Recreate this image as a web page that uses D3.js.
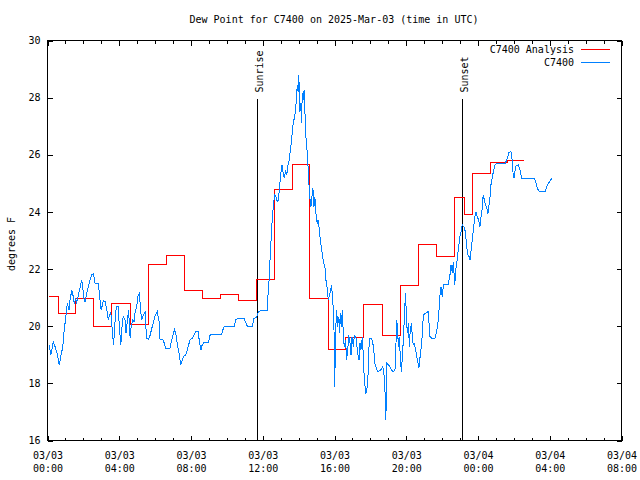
<!DOCTYPE html>
<html><head><meta charset="utf-8">
<script src="https://cdn.jsdelivr.net/npm/d3@7"></script>
<style>
body{margin:0;background:#fff}
svg{display:block;background:#fff}
text{font-family:"DejaVu Sans Mono","Liberation Mono",monospace;font-size:10px;fill:#000}
</style>
</head><body><svg id="c" width="640" height="480"></svg>
<script>
const title = "Dew Point for C7400 on 2025-Mar-03 (time in UTC)";
const yLabel = "degrees F";
const seriesNames = ["C7400 Analysis", "C7400"];
const seriesColors = ["#ff0000", "#0080ff"];
const yTickValues = [16, 18, 20, 22, 24, 26, 28, 30];
const sunLabels = ["Sunrise", "Sunset"];
const sunMinutes = [704, 1389];

// minutes after 2025-03-03 00:00 UTC, analysis (hourly, stepwise)
const analysisMinutes = [7,38,96,155,216,278,338,401,459,519,579,639,701,761,820,878,940,1000,1060,1121,1181,1243,1303,1363,1395,1422,1484,1542,1597];
const analysisValues = [21.04,20.43,20.96,19.97,20.78,20.06,22.13,22.46,21.23,20.96,21.1,20.89,21.62,24.78,25.65,20.96,19.17,19.59,20.75,19.67,21.41,22.86,22.44,24.49,23.91,25.33,25.72,25.79,25.79];

// observations
const obsMinutes = [7,13,21,27,34,41,46,53,57,63,68,74,77,83,86,91,96,99,105,110,116,119,124,127,133,138,144,150,155,161,172,175,181,184,188,195,200,205,208,213,216,220,223,226,232,238,242,247,251,255,261,264,269,273,278,282,287,291,295,300,304,309,313,317,322,328,333,339,345,352,361,369,376,378,389,397,411,420,426,432,437,443,447,451,456,464,471,478,486,492,498,506,509,515,519,525,540,545,556,584,590,595,627,632,659,666,670,687,692,701,707,718,737,740,744,746,750,754,758,761,765,770,774,777,782,786,790,794,798,802,805,810,815,819,822,826,830,833,835,837,840,842,844,846,849,851,853,855,857,860,862,864,866,869,872,875,877,880,883,885,889,891,893,896,900,904,907,911,914,919,924,930,933,938,941,944,949,952,954,958,960,962,964,967,969,972,976,978,981,984,988,991,994,999,1002,1006,1009,1014,1017,1020,1025,1028,1033,1036,1039,1044,1047,1050,1055,1058,1061,1066,1070,1075,1078,1086,1092,1097,1103,1108,1116,1123,1127,1131,1133,1135,1137,1142,1147,1153,1158,1164,1167,1170,1173,1175,1178,1182,1185,1188,1192,1195,1199,1202,1205,1209,1212,1215,1219,1222,1225,1229,1233,1239,1244,1248,1253,1259,1264,1275,1281,1287,1298,1304,1309,1315,1318,1322,1326,1329,1342,1348,1351,1356,1359,1364,1367,1372,1377,1381,1385,1389,1394,1398,1401,1404,1407,1412,1415,1418,1421,1425,1428,1432,1435,1439,1444,1448,1452,1456,1459,1463,1467,1471,1475,1478,1482,1485,1490,1494,1499,1504,1532,1538,1545,1552,1556,1559,1562,1565,1569,1577,1582,1588,1630,1636,1640,1647,1666,1672,1679,1686,1690];
const obsValues = [19.33,18.97,19.44,19.27,19.03,18.63,18.92,19.27,19.79,20.32,20.78,20.55,20.9,21.25,21.13,20.78,20.96,20.78,21.08,21.31,21.6,21.37,20.9,20.84,21.13,21.37,21.6,21.78,21.83,21.48,21.48,21.13,20.55,20.67,20.87,20.84,20.55,20.2,20.32,20.49,20.14,19.62,19.33,19.97,20.67,20.67,19.97,19.33,19.97,20.32,20.2,19.73,20.2,20.55,19.56,20.02,20.2,20.14,20.49,20.67,21.02,21.13,20.55,20.2,20.37,20.49,19.56,19.52,19.67,19.97,20.32,20.49,20.08,19.53,19.5,19.21,19.21,19.62,19.87,19.67,19.27,18.97,18.63,18.74,18.92,18.97,19.21,19.5,19.56,19.67,19.79,19.79,19.5,19.15,19.33,19.41,19.41,19.67,19.7,19.7,19.91,19.99,19.99,20.23,20.26,20.08,19.99,19.99,20.26,20.28,20.49,20.55,20.55,21.25,21.72,22.3,23.1,23.82,24.25,24.58,24.55,24.34,24.4,24.75,25.33,25.63,25.33,25.16,25.45,25.28,25.57,25.8,26.21,26.62,26.97,27.2,27.43,27.78,28.02,28.43,28.19,28.78,28.31,27.49,27.78,27.08,27.78,28.13,27.9,28.25,27.67,27.2,26.62,26.27,25.74,25.33,24.75,24.4,24.17,24.4,24.81,24.64,24.17,24.52,23.88,23.58,23.7,23.35,23.0,22.65,22.3,22.01,21.6,21.25,20.9,21.02,21.25,21.43,21.13,20.55,19.85,17.87,18.8,20.2,20.55,19.97,20.32,19.73,20.43,19.97,20.55,19.73,19.27,19.5,18.8,19.15,19.67,19.38,18.97,19.62,19.27,19.67,19.62,19.38,19.03,18.8,19.38,19.15,19.62,18.92,18.22,17.63,17.75,18.45,19.56,19.56,19.27,18.68,18.45,18.39,18.45,18.57,18.33,17.63,16.7,17.4,18.68,18.63,18.57,18.45,18.39,18.45,19.27,20.2,19.85,19.27,19.62,18.92,18.39,18.8,19.5,20.2,21.13,20.43,19.73,20.08,19.27,19.85,20.08,19.62,19.33,19.38,19.15,18.8,18.51,18.92,19.33,20.37,20.43,20.49,19.62,19.56,19.56,19.85,20.2,21.13,21.37,21.02,21.43,21.46,21.46,21.78,22.13,21.83,22.24,21.43,21.95,22.3,22.77,23.12,23.29,23.53,23.47,23.35,23.12,22.77,22.48,22.42,22.3,22.59,22.88,23.23,23.53,23.88,23.99,23.82,23.7,23.47,23.82,24.11,24.58,24.4,24.23,24.11,23.93,24.17,24.52,24.93,25.22,25.45,25.63,25.68,25.68,25.8,26.06,26.09,25.8,25.33,25.16,25.39,25.59,25.63,25.45,25.16,25.16,24.98,24.81,24.69,24.69,24.87,25.01,25.12,25.18];

const t0 = Date.UTC(2025, 2, 3, 0, 0);
const toDate = m => new Date(t0 + m * 60000);

const svg = d3.select("#c");
const L = 47, R = 621, T = 40, B = 440;

const x = d3.scaleUtc().domain([new Date(t0), new Date(t0 + 32 * 3600000)]).range([L, R]);
const y = d3.scaleLinear().domain([16, 30]).range([B, T]);

// frame
svg.append("rect").attr("x", L + 0.5).attr("y", T + 0.5).attr("width", R - L).attr("height", B - T)
  .attr("fill", "none").attr("stroke", "#000").attr("shape-rendering", "crispEdges");

const fmtD = d3.utcFormat("%m/%d"), fmtT = d3.utcFormat("%H:%M");

function styleAxis(g) {
  g.select(".domain").remove();
  g.selectAll(".tick line").attr("stroke", "#000").attr("shape-rendering", "crispEdges");
  g.attr("font-family", null).attr("font-size", null);
}

// bottom major
const gb = svg.append("g").attr("transform", `translate(0.5,${B + 0.5})`)
  .call(d3.axisBottom(x).ticks(d3.utcHour.every(4)).tickSizeInner(-5).tickSizeOuter(0).tickPadding(0))
  .call(styleAxis);
gb.selectAll(".tick text").attr("dy", null).attr("y", null).each(function(d) {
  const t = d3.select(this); t.text(null);
  t.append("tspan").attr("x", 0).attr("y", 18).text(fmtD(d));
  t.append("tspan").attr("x", 0).attr("y", 31).text(fmtT(d));
});
// bottom minor
svg.append("g").attr("transform", `translate(0.5,${B + 0.5})`)
  .call(d3.axisBottom(x).ticks(d3.utcHour.every(1)).tickSizeInner(-3).tickSizeOuter(0).tickFormat(""))
  .call(styleAxis);
// top major + minor
svg.append("g").attr("transform", `translate(0.5,${T + 0.5})`)
  .call(d3.axisTop(x).ticks(d3.utcHour.every(4)).tickSizeInner(-5).tickSizeOuter(0).tickFormat(""))
  .call(styleAxis);
svg.append("g").attr("transform", `translate(0.5,${T + 0.5})`)
  .call(d3.axisTop(x).ticks(d3.utcHour.every(1)).tickSizeInner(-3).tickSizeOuter(0).tickFormat(""))
  .call(styleAxis);
// left
const gl = svg.append("g").attr("transform", `translate(${L + 0.5},0.5)`)
  .call(d3.axisLeft(y).tickValues(yTickValues).tickSizeInner(-5).tickSizeOuter(0).tickPadding(7).tickFormat(d3.format("d")))
  .call(styleAxis);
// right
svg.append("g").attr("transform", `translate(${R + 0.5},0.5)`)
  .call(d3.axisRight(y).tickValues(yTickValues).tickSizeInner(-5).tickSizeOuter(0).tickFormat(""))
  .call(styleAxis);

// y label
svg.append("text").attr("transform", `translate(15,${(T + B) / 2 + 4}) rotate(-90)`)
  .attr("text-anchor", "middle").text(yLabel);

// title
svg.append("text").attr("x", (L + R) / 2).attr("y", 23).attr("text-anchor", "middle").text(title);

// sun lines
sunMinutes.forEach((m, i) => {
  const xx = Math.round(x(toDate(m))) + 0.5;
  svg.append("line").attr("x1", xx).attr("x2", xx).attr("y1", y(27.95)).attr("y2", B)
    .attr("stroke", "#000").attr("shape-rendering", "crispEdges");
  svg.append("text").attr("transform", `translate(${xx + 5},${y(27.95) - 6}) rotate(-90)`)
    .attr("text-anchor", "start").text(sunLabels[i]);
});

// series
const line = d3.line().x(d => x(d[0])).y(d => y(d[1]));
const analysis = analysisMinutes.map((m, i) => [toDate(m), analysisValues[i]]);
const obs = obsMinutes.map((m, i) => [toDate(m), obsValues[i]]);

svg.append("path").datum(analysis).attr("d", line.curve(d3.curveStepAfter))
  .attr("fill", "none").attr("stroke", seriesColors[0]).attr("stroke-width", 1).attr("shape-rendering", "crispEdges");
svg.append("path").datum(obs).attr("d", d3.line().x(d => x(d[0])).y(d => y(d[1])))
  .attr("fill", "none").attr("stroke", seriesColors[1]).attr("stroke-width", 1).attr("shape-rendering", "crispEdges");

// legend
seriesNames.forEach((n, i) => {
  const yy = 53 + i * 13;
  svg.append("text").attr("x", 574).attr("y", yy).attr("text-anchor", "end").text(n);
  svg.append("line").attr("x1", 581).attr("x2", 610).attr("y1", yy - 3.5).attr("y2", yy - 3.5)
    .attr("stroke", seriesColors[i]).attr("shape-rendering", "crispEdges");
});
</script>
</body></html>
